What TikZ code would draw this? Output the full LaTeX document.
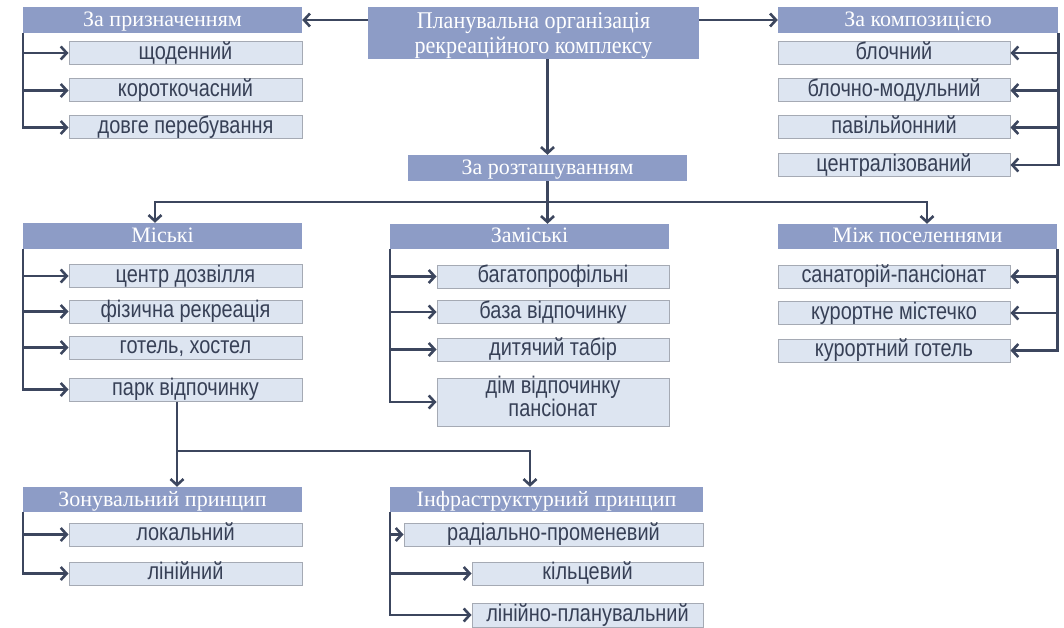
\documentclass[tikz,border=0pt]{standalone}
\usepackage{fontspec}
\setmainfont{Liberation Serif}
\newfontfamily\itemfont[FakeStretch=0.83]{Liberation Sans}
\newfontfamily\mainfont[FakeStretch=0.92]{Liberation Serif}
\usetikzlibrary{arrows.meta}
\definecolor{hdrblue}{RGB}{141,156,198}
\definecolor{itemfill}{RGB}{221,229,241}
\definecolor{itemborder}{RGB}{165,170,180}
\definecolor{itemtext}{RGB}{55,64,86}
\definecolor{linecol}{RGB}{60,70,94}
\tikzset{
  hdr/.style={fill=hdrblue, text=white, inner sep=0pt, text height=15pt, text depth=2pt,
    font=\rmfamily\fontsize{22}{26}\selectfont},
  item/.style={draw=itemborder, line width=1pt, fill=itemfill, text=itemtext,
    inner sep=0pt, text height=17pt, text depth=4.5pt, font=\itemfont\fontsize{24}{26}\selectfont},
  twoline/.style={align=center, text height=34.4pt, text depth=5pt,
    font=\itemfont\fontsize{24}{20}\selectfont},
  link/.style={draw=linecol, line width=2.6pt},
  arr/.style={link, -{Straight Barb[length=6pt,width=13pt]}}
}
\begin{document}
\begin{tikzpicture}[x=1pt,y=-1pt]
\useasboundingbox (0,0) rectangle (1064,628);
% top
\node[hdr, align=center, font=\mainfont\fontsize{24}{25}\selectfont, text height=47pt, text depth=5pt, minimum width=331pt, minimum height=52pt] (main) at (533.5,33) {Планувальна організація\\рекреаційного комплексу};
\node[hdr, minimum width=279pt, minimum height=26pt] (pryz) at (162.5,20) {За призначенням};
\node[hdr, minimum width=280pt, minimum height=26pt] (komp) at (918,20) {За композицією};
\node[hdr, minimum width=279pt, minimum height=26pt] (rozt) at (547.5,168) {За розташуванням};
% pryz items
\node[item, minimum width=233pt, minimum height=23pt] (p1) at (185.5,53) {щоденний};
\node[item, minimum width=233pt, minimum height=23pt] (p2) at (185.5,90.5) {короткочасний};
\node[item, minimum width=233pt, minimum height=23pt] (p3) at (185.5,127.5) {довге перебування};
% komp items
\node[item, minimum width=232pt, minimum height=23pt] (k1) at (894,53) {блочний};
\node[item, minimum width=232pt, minimum height=23pt] (k2) at (894,90.5) {блочно-модульний};
\node[item, minimum width=232pt, minimum height=23pt] (k3) at (894,127.5) {павільйонний};
\node[item, minimum width=232pt, minimum height=23pt] (k4) at (894,165) {централізований};
% location headers
\node[hdr, minimum width=279pt, minimum height=26pt] (mis) at (162.5,236) {Міські};
\node[hdr, minimum width=279pt, minimum height=25pt] (zam) at (529.5,236.5) {Заміські};
\node[hdr, minimum width=279pt, minimum height=25pt] (mizh) at (917.5,236.5) {Між поселеннями};
% mis items
\node[item, minimum width=233pt, minimum height=23pt] (m1) at (185.5,276) {центр дозвілля};
\node[item, minimum width=233pt, minimum height=23pt] (m2) at (185.5,311.5) {фізична рекреація};
\node[item, minimum width=233pt, minimum height=23pt] (m3) at (185.5,347.5) {готель, хостел};
\node[item, minimum width=233pt, minimum height=23pt] (m4) at (185.5,389.5) {парк відпочинку};
% zam items
\node[item, minimum width=232pt, minimum height=23pt] (z1) at (553,276.5) {багатопрофільні};
\node[item, minimum width=232pt, minimum height=23pt] (z2) at (553,312) {база відпочинку};
\node[item, minimum width=232pt, minimum height=23pt] (z3) at (553,349.5) {дитячий табір};
\node[item, twoline, minimum width=232pt, minimum height=48pt] (z4) at (553,402) {дім відпочинку\\пансіонат};
% mizh items
\node[item, minimum width=232pt, minimum height=23pt] (s1) at (894,276.5) {санаторій-пансіонат};
\node[item, minimum width=232pt, minimum height=23pt] (s2) at (894,313) {курортне містечко};
\node[item, minimum width=232pt, minimum height=23pt] (s3) at (894,350.5) {курортний готель};
% bottom headers
\node[hdr, minimum width=279pt, minimum height=25pt] (zon) at (162.5,499.5) {Зонувальний принцип};
\node[hdr, minimum width=313pt, minimum height=25pt] (inf) at (546.5,499.5) {Інфраструктурний принцип};
\node[item, minimum width=233pt, minimum height=23pt] (zn1) at (185.5,534.5) {локальний};
\node[item, minimum width=233pt, minimum height=23pt] (zn2) at (185.5,573.5) {лінійний};
\node[item, minimum width=299pt, minimum height=23pt] (f1) at (553.5,534.5) {радіально-променевий};
\node[item, minimum width=231pt, minimum height=23pt] (f2) at (587.5,573.5) {кільцевий};
\node[item, minimum width=231pt, minimum height=24pt] (f3) at (587.5,615) {лінійно-планувальний};
% top connectors
\draw[arr] (main.west |- pryz.east) -- (pryz.east);
\draw[arr] (main.east |- komp.west) -- (komp.west);
\draw[arr] (main.south -| rozt.north) -- (rozt.north);
% pryz trunk
\draw[arr] (pryz.south west) |- (p3.west);
\draw[arr] (pryz.south west |- p1.west) -- (p1.west);
\draw[arr] (pryz.south west |- p2.west) -- (p2.west);
% komp trunk
\draw[arr] (komp.south east) |- (k4.east);
\draw[arr] (komp.south east |- k1.east) -- (k1.east);
\draw[arr] (komp.south east |- k2.east) -- (k2.east);
\draw[arr] (komp.south east |- k3.east) -- (k3.east);
% location bus
\coordinate (bus) at (547.5,202);
\coordinate (mL) at (155,202);
\coordinate (mR) at (927,202);
\draw[link] (rozt.south) -- (bus);
\draw[arr] (bus) -- (bus |- zam.north);
\draw[arr] (bus) -- (mL) -- (mL |- mis.north);
\draw[arr] (bus) -- (mR) -- (mR |- mizh.north);
% mis trunk
\draw[arr] (mis.south west) |- (m4.west);
\draw[arr] (mis.south west |- m1.west) -- (m1.west);
\draw[arr] (mis.south west |- m2.west) -- (m2.west);
\draw[arr] (mis.south west |- m3.west) -- (m3.west);
% zam trunk
\draw[arr] (zam.south west) |- (z4.west);
\draw[arr] (zam.south west |- z1.west) -- (z1.west);
\draw[arr] (zam.south west |- z2.west) -- (z2.west);
\draw[arr] (zam.south west |- z3.west) -- (z3.west);
% mizh trunk
\draw[arr] (mizh.south east) |- (s3.east);
\draw[arr] (mizh.south east |- s1.east) -- (s1.east);
\draw[arr] (mizh.south east |- s2.east) -- (s2.east);
% bottom
\coordinate (pb) at (177,451);
\coordinate (pr) at (530,451);
\draw[link] (m4.south -| pb) -- (pb);
\draw[arr] (pb) -- (pb |- zon.north);
\draw[arr] (pb) -- (pr) -- (pr |- inf.north);
\draw[arr] (zon.south west) |- (zn2.west);
\draw[arr] (zon.south west |- zn1.west) -- (zn1.west);
\draw[arr] (inf.south west) |- (f3.west);
\draw[arr] (inf.south west |- f1.west) -- (f1.west);
\draw[arr] (inf.south west |- f2.west) -- (f2.west);
\end{tikzpicture}
\end{document}
